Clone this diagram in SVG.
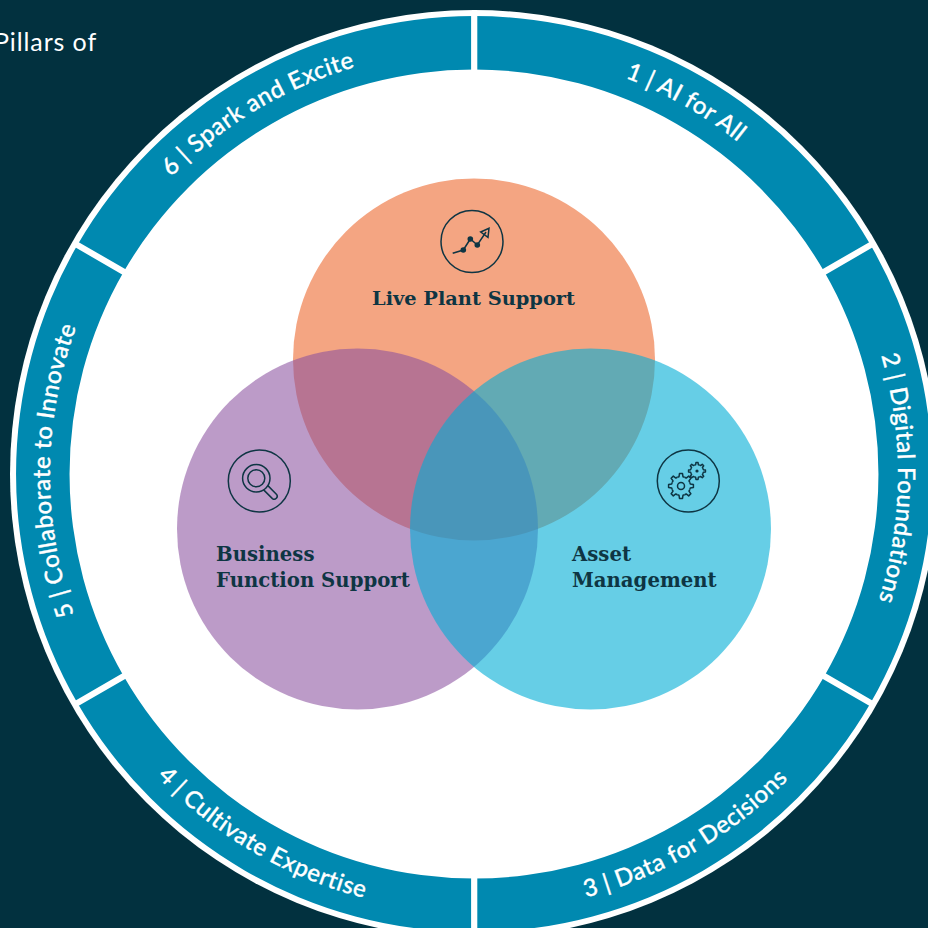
<svg xmlns="http://www.w3.org/2000/svg" width="928" height="928" viewBox="0 0 928 928">
<style>
.sector{fill:#0089B0}
.sep{stroke:#fff;stroke-width:6.2;fill:none}
.pillar{font-family:"Lato","Open Sans",sans-serif;font-size:24px;font-weight:500;fill:#fff;stroke:#fff;stroke-width:.3;text-anchor:middle;letter-spacing:.5px}
.lab{font-family:"DejaVu Serif","Liberation Serif",serif;font-weight:700;font-size:19.7px;fill:#0E3543}
.ic{fill:none;stroke:#0E3543;stroke-width:1.5}
.dot{fill:#0E3543}
</style>
<defs>
<path id="p1" d="M474,50A424,424 0 0 1 841.2,262"/>
<path id="p2" d="M841.2,262A424,424 0 0 1 841.2,686"/>
<path id="p3" d="M474,912A438,438 0 0 0 853.3,693"/>
<path id="p4" d="M94.7,693A438,438 0 0 0 474,912"/>
<path id="p5" d="M106.8,686A424,424 0 0 1 106.8,262"/>
<path id="p6" d="M106.8,262A424,424 0 0 1 474,50"/>
<polyline id="tooth" points="-3.64,-8.78 -1.98,-9.29 -1.52,-12.41 1.52,-12.41 1.98,-9.29 3.64,-8.78" class="ic" stroke-linejoin="round" vector-effect="non-scaling-stroke"/>
<g id="gear">
<use href="#tooth"/><use href="#tooth" transform="rotate(45)"/><use href="#tooth" transform="rotate(90)"/><use href="#tooth" transform="rotate(135)"/><use href="#tooth" transform="rotate(180)"/><use href="#tooth" transform="rotate(225)"/><use href="#tooth" transform="rotate(270)"/><use href="#tooth" transform="rotate(315)"/>
</g>
</defs>
<rect width="928" height="928" fill="#02313F"/>
<text x="-6" y="51" font-family="Lato,'Open Sans',sans-serif" font-size="25" letter-spacing=".9" fill="#fff">Pillars of</text>
<circle cx="474" cy="474" r="464" fill="#fff"/>
<g id="pillar-1"><path class="sector" d="M474,16A458,458 0 0 1 870.6,245L824.3,271.8A404.5,404.5 0 0 0 474,69.5Z"/><text class="pillar"><textPath href="#p1" startOffset="49.5%">1 | AI for All</textPath></text></g>
<g id="pillar-2"><path class="sector" d="M870.6,245A458,458 0 0 1 870.6,703L824.3,676.2A404.5,404.5 0 0 0 824.3,271.8Z"/><text class="pillar"><textPath href="#p2" startOffset="51%">2 | Digital Foundations</textPath></text></g>
<g id="pillar-3"><path class="sector" d="M870.6,703A458,458 0 0 1 474,932L474,878.5A404.5,404.5 0 0 0 824.3,676.2Z"/><text class="pillar"><textPath href="#p3" startOffset="50.6%">3 | Data for Decisions</textPath></text></g>
<g id="pillar-4"><path class="sector" d="M474,932A458,458 0 0 1 77.4,703L123.7,676.2A404.5,404.5 0 0 0 474,878.5Z"/><text class="pillar"><textPath href="#p4" startOffset="49.3%">4 | Cultivate Expertise</textPath></text></g>
<g id="pillar-5"><path class="sector" d="M77.4,703A458,458 0 0 1 77.4,245L123.7,271.8A404.5,404.5 0 0 0 123.7,676.2Z"/><text class="pillar"><textPath href="#p5" startOffset="50.8%">5 | Collaborate to Innovate</textPath></text></g>
<g id="pillar-6"><path class="sector" d="M77.4,245A458,458 0 0 1 474,16L474,69.5A404.5,404.5 0 0 0 123.7,271.8Z"/><text class="pillar"><textPath href="#p6" startOffset="48.5%">6 | Spark and Excite</textPath></text></g>
<g id="connectors">
<path class="sep" d="M474.2,12V72M474.2,876V928M873,243.6L822.2,273M873,704.4L822.2,675M75,243.6L125.8,273M75,704.4L125.8,675"/>
</g>
<g id="live-plant-support">
<circle cx="474" cy="359.5" r="181" fill="#F4A582"/>
</g>
<g id="business-function-support">
<circle cx="357.5" cy="529" r="180.5" fill="#89509E" fill-opacity=".57"/>
</g>
<g id="asset-management">
<circle cx="590.5" cy="529" r="180.5" fill="#00ADD5" fill-opacity=".6"/>
</g>
<g id="live-plant-label">
<circle class="ic" cx="472" cy="241.5" r="31"/>
<polyline class="ic" points="452.7,253.3 463.3,250 470.3,239 477.3,245 486,232"/>
<polygon class="ic" points="480.7,232 489,228.3 488,237.3"/>
<circle class="dot" cx="463.3" cy="250" r="2.8"/><circle class="dot" cx="470.3" cy="239" r="2.8"/><circle class="dot" cx="477.3" cy="245" r="2.8"/>
<text class="lab" x="473.5" y="305" text-anchor="middle" style="font-size:19.4px">Live Plant Support</text>
</g>
<g id="business-label">
<circle class="ic" cx="259.3" cy="481" r="31"/>
<circle class="ic" cx="256.3" cy="478.3" r="13.7"/><circle class="ic" cx="256.3" cy="478.3" r="8.5"/>
<path class="ic" d="M267.6,485.4L276.6,494.4A3,3 0 0 1 272.4,498.6L263.4,489.6"/>
<text class="lab" x="216" y="561">Business</text>
<text class="lab" x="216" y="587">Function Support</text>
</g>
<g id="asset-label">
<circle class="ic" cx="688.3" cy="481" r="31"/>
<use href="#gear" transform="translate(681,486)"/><circle class="ic" cx="681" cy="486" r="3.5"/>
<use href="#gear" transform="translate(697,471) scale(.68)"/><circle class="dot" cx="697" cy="471" r="1.6"/>
<text class="lab" x="572" y="561">Asset</text>
<text class="lab" x="572" y="587">Management</text>
</g>
</svg>
